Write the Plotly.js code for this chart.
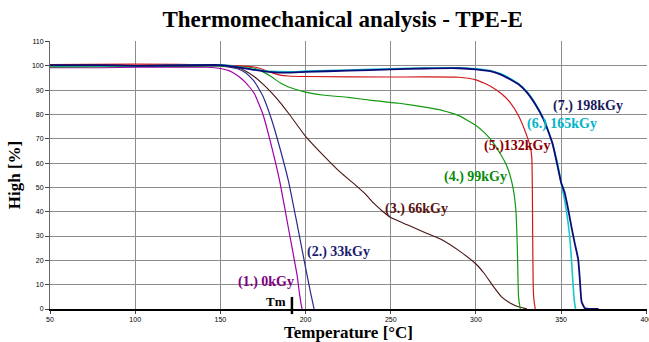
<!DOCTYPE html>
<html>
<head>
<meta charset="utf-8">
<script src="https://cdn.plot.ly/plotly-3.0.1.min.js"></script>
<style>
  html, body { margin: 0; padding: 0; background: #fff; }
  #chart { width: 649px; height: 342px; }
</style>
</head>
<body>
<div id="chart"></div>
<script>
// Sample height [%] versus temperature [°C] for each irradiation dose
var seriesNames = ['(1.) 0kGy', '(2.) 33kGy', '(3.) 66kGy', '(4.) 99kGy', '(5.)132kGy', '(6.) 165kGy', '(7.) 198kGy'];

var temp0 = [50, 80, 100, 140, 148, 155, 160, 165, 170, 175, 180, 185, 190, 195, 196.5, 197.5, 198];
var high0 = [99.2, 99.2, 99.4, 99.5, 99.1, 98, 96, 93, 88.5, 80, 67, 52, 33, 14, 6, 1.5, 0];

var temp33 = [50, 100, 150, 160, 165, 170, 175, 180, 185, 190, 195, 200, 203, 205];
var high33 = [100, 99.8, 100, 98.8, 97, 93.5, 87.5, 78, 66, 52.5, 35, 17, 6.5, 0];

var temp66 = [50, 100, 150, 160, 165, 170, 175, 180, 185, 190, 200, 210, 220, 230, 235, 240, 245, 250, 260, 270, 280, 290, 300, 305, 310, 315, 320, 325, 330];
var high66 = [99.6, 99.8, 100, 99.2, 97.8, 95.5, 92.5, 89, 85, 80.5, 71, 63.5, 56.5, 50.5, 47.3, 43.5, 40.3, 37.6, 34.5, 31.5, 28.5, 24, 18.5, 14.5, 9.5, 5, 2.5, 0.9, 0];

var temp99 = [50, 100, 150, 165, 170, 175, 180, 185, 190, 200, 210, 225, 240, 255, 270, 280, 290, 300, 305, 310, 315, 318, 320, 322, 323.5, 324.3, 325, 326];
var high99 = [99.6, 99.8, 100, 99.5, 99, 97.5, 95.5, 93, 91.3, 89.2, 88, 87, 85.7, 84.6, 83, 81.7, 79.5, 75.5, 72.5, 68.5, 63, 59, 55, 49, 40, 25, 5, 0];

var temp132 = [50, 100, 150, 170, 175, 180, 185, 190, 200, 250, 290, 300, 305, 310, 315, 320, 325, 330, 332, 332.8, 333.1, 333.3, 333.6, 334, 334.8];
var high132 = [100.5, 100.7, 100.3, 99.5, 98.5, 97.2, 96.2, 95.8, 95.6, 95.4, 95.3, 94.2, 92.8, 91, 88.5, 85, 79.5, 71, 66.5, 62, 50, 30, 10, 4, 0];

var temp165 = [50, 100, 150, 160, 170, 180, 190, 200, 225, 250, 270, 290, 300, 310, 315, 320, 325, 330, 335, 340, 345, 348, 350, 352, 353.5, 355, 356, 357, 357.8, 358.5];
var high165 = [100, 100, 100.4, 99.6, 98.5, 97.7, 97.5, 97.8, 98.3, 98.8, 99.1, 99.2, 98.8, 97.8, 96.6, 94.8, 92.6, 89.3, 84.3, 77.8, 67.5, 59.5, 52, 45, 38.5, 30, 21, 10, 3, 0];

var temp198 = [50, 80, 100, 150, 160, 170, 180, 190, 200, 225, 250, 270, 290, 300, 310, 315, 320, 325, 330, 335, 340, 345, 350, 352, 354, 356, 358, 360, 361, 362, 364, 372];
var high198 = [100.3, 100.3, 100, 100.3, 99.5, 98.3, 97.4, 97.2, 97.5, 98, 98.5, 98.9, 99, 98.5, 97.5, 96.3, 94.5, 92.4, 89, 84, 77.5, 68, 52, 48, 41.5, 34, 27, 20.5, 12, 3, 0.3, 0];

// Melting temperature marker
var tmLabel = 'Tm';
var tmValue = [192];

var xTickVals = [50, 100, 150, 200, 250, 300, 350, 400];
var yTickVals = [0, 10, 20, 30, 40, 50, 60, 70, 80, 90, 100, 110];

var lineColors = ['#a000a8', '#2a2a8c', '#4a1414', '#129a12', '#d01818', '#18c8cc', '#0c0c78'];
var lineWidths = [1.2, 1.2, 1.1, 1.2, 1.2, 1.6, 1.8];
var labelColors = ['#800080', '#1c1c6e', '#5a1212', '#0a8a0a', '#8b0000', '#00b4c8', '#1a1a5e'];

var xs = [temp0, temp33, temp66, temp99, temp132, temp165, temp198];
var ys = [high0, high33, high66, high99, high132, high165, high198];

var traces = xs.map(function (x, i) {
  return {
    type: 'scatter', mode: 'lines', name: seriesNames[i],
    x: x, y: ys[i],
    line: { color: lineColors[i], width: lineWidths[i], shape: 'spline', smoothing: 0.4 },
    hoverinfo: 'x+y+name'
  };
});

// label anchors (temperature, height) next to each curve
var labelPos = [[176.8, 11.1], [219.1, 23.4], [265, 41], [299.7, 54.2], [324.4, 66.9], [350.8, 76.1], [366, 83.3]];
var serif = 'Liberation Serif, Times New Roman, serif';

var annotations = seriesNames.map(function (t, i) {
  return {
    text: '<b>' + t + '</b>', x: labelPos[i][0], y: labelPos[i][1], xref: 'x', yref: 'y',
    showarrow: false, xanchor: 'center', yanchor: 'middle',
    font: { family: serif, size: 14, color: labelColors[i] }
  };
});
annotations.push({
  text: '<b>' + tmLabel + '</b>', x: tmValue[0] - 2.3, y: 2.9, xref: 'x', yref: 'y',
  showarrow: false, xanchor: 'right', yanchor: 'middle',
  font: { family: serif, size: 13, color: '#000' }
});

var tickFont = { family: 'Liberation Sans, Arial, sans-serif', size: 7, color: '#000' };

var layout = {
  width: 649, height: 342,
  margin: { l: 50, r: 2, t: 41, b: 33 },
  paper_bgcolor: '#fff', plot_bgcolor: '#fff',
  showlegend: false,
  title: {
    text: '<b>Thermomechanical analysis - TPE-E</b>',
    font: { family: serif, size: 23, color: '#000' },
    x: 0.528, xref: 'container', xanchor: 'center',
    y: 0.944, yref: 'container', yanchor: 'middle'
  },
  xaxis: {
    range: [50, 400.4], tickvals: xTickVals, ticktext: xTickVals.map(String),
    showgrid: true, gridcolor: '#8c8c8c', gridwidth: 1,
    showline: true, linecolor: '#000', linewidth: 2,
    ticks: 'outside', ticklen: 3, tickcolor: '#444',
    zeroline: false, ticklabeloverflow: 'allow',
    tickfont: tickFont,
    title: { text: '<b>Temperature [°C]</b>', font: { family: serif, size: 17, color: '#000' }, standoff: 4 }
  },
  yaxis: {
    range: [0, 110.2], tickvals: yTickVals, ticktext: yTickVals.map(String),
    showgrid: true, gridcolor: '#8c8c8c', gridwidth: 1,
    showline: true, linecolor: '#666', linewidth: 1,
    ticks: 'outside', ticklen: 4, tickcolor: '#444',
    zeroline: false,
    tickfont: tickFont,
    title: { text: '<b>High [%]</b>', font: { family: serif, size: 17, color: '#000' }, standoff: 6 }
  },
  annotations: annotations,
  shapes: [{
    type: 'line', xref: 'x', yref: 'paper',
    x0: tmValue[0], x1: tmValue[0], y0: 0.045, y1: -0.019,
    line: { color: '#000', width: 2.5 }
  }]
};

Plotly.newPlot('chart', traces, layout, { staticPlot: true, displayModeBar: false });
</script>
</body>
</html>
